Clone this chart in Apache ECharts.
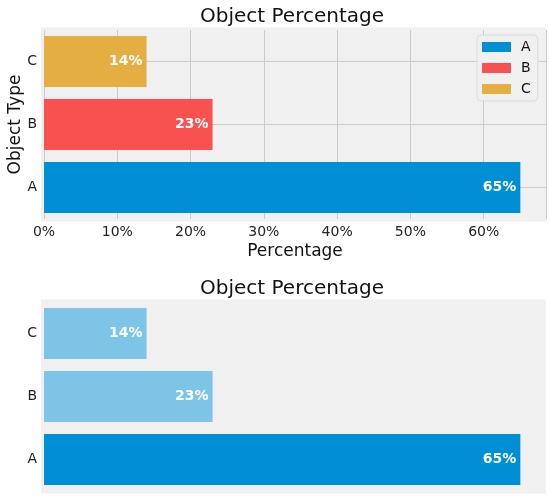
<!DOCTYPE html>
<html>
<head>
<meta charset="utf-8">
<script src="https://cdn.jsdelivr.net/npm/echarts@6/dist/echarts.min.js"></script>
<style>
  html, body { margin: 0; padding: 0; background: #fff; }
  #chart { width: 550px; height: 501px; }
</style>
</head>
<body>
<div id="chart"></div>
<script>
var categories = ['A', 'B', 'C'];
var percentages = [65, 23, 14];
var barColors = ['#008fd5', '#f85150', '#e5ae42'];
var highlightColor = '#008fd5';
var fadedColor = '#7dc4e6';
var titleText = 'Object Percentage';

var font = 'DejaVu Sans';
var gridColor = '#cbcbcb';
var panelColor = '#f0f0f0';
var xMax = 68.5;

var chart = echarts.init(document.getElementById('chart'), null, { renderer: 'canvas' });

var barLabel = {
  show: true,
  position: 'insideRight',
  distance: 4,
  color: '#fff',
  fontWeight: 'bold',
  fontSize: 14,
  fontFamily: font,
  formatter: '{c}%'
};

// top panel: one series per category so the legend gets A, B, C
var topSeries = categories.map(function (name, i) {
  return {
    name: name,
    type: 'bar',
    stack: 'top',
    xAxisIndex: 0,
    yAxisIndex: 0,
    barWidth: 51,
    z: 3,
    itemStyle: { color: barColors[i] },
    label: barLabel,
    data: percentages.map(function (v, j) { return j === i ? v : '-'; })
  };
});

// horizontal grid lines through the bar centres (behind the bars)
topSeries.push({
  name: 'ygrid',
  type: 'line',
  xAxisIndex: 0,
  yAxisIndex: 0,
  z: 1,
  showSymbol: false,
  data: [],
  markLine: {
    z: 1,
    silent: true,
    animation: false,
    symbol: 'none',
    label: { show: false },
    lineStyle: { color: gridColor, width: 1, type: 'solid' },
    data: categories.map(function (c) { return { yAxis: c }; })
  }
});

// bottom panel: largest bar highlighted
var maxVal = Math.max.apply(null, percentages);
var bottomSeries = {
  name: 'bottom',
  type: 'bar',
  xAxisIndex: 1,
  yAxisIndex: 1,
  barWidth: 51,
  z: 3,
  label: barLabel,
  data: percentages.map(function (v) {
    return { value: v, itemStyle: { color: v === maxVal ? highlightColor : fadedColor } };
  })
};

var axisText = { color: '#222', fontSize: 14, fontFamily: font };

chart.setOption({
  backgroundColor: '#fff',
  animation: false,
  textStyle: { fontFamily: font },
  title: [
    { text: titleText, left: 200, top: 7, padding: 0,
      textStyle: { fontSize: 20, fontWeight: 'normal', color: '#111', fontFamily: font } },
    { text: titleText, left: 200, top: 279, padding: 0,
      textStyle: { fontSize: 20, fontWeight: 'normal', color: '#111', fontFamily: font } }
  ],
  graphic: [
    { type: 'rect', z: -10, silent: true, shape: { x: 41, y: 27.5, width: 505, height: 194 }, style: { fill: panelColor } },
    { type: 'rect', z: -10, silent: true, shape: { x: 41, y: 299.5, width: 505, height: 194 }, style: { fill: panelColor } }
  ],
  legend: {
    data: categories,
    orient: 'vertical',
    left: 477,
    top: 35,
    padding: [5, 7, 5, 5],
    itemWidth: 29,
    itemHeight: 10,
    itemGap: 7,
    icon: 'rect',
    backgroundColor: panelColor,
    borderColor: '#dcdcdc',
    borderWidth: 1,
    borderRadius: 4,
    textStyle: { fontSize: 14, lineHeight: 14, color: '#111', fontFamily: font, padding: [0, 0, 0, 5] }
  },
  grid: [
    { left: 44, right: 4, top: 30, height: 189, outerBoundsMode: 'none', containLabel: false },
    { left: 44, right: 4, top: 302, height: 189, outerBoundsMode: 'none', containLabel: false }
  ],
  xAxis: [
    {
      gridIndex: 0, type: 'value', min: 0, max: xMax, interval: 10,
      name: 'Percentage', nameLocation: 'middle', nameGap: 24, nameMoveOverlap: false,
      nameTextStyle: { fontSize: 17, color: '#111', fontFamily: font },
      axisLine: { show: false }, axisTick: { show: false },
      axisLabel: Object.assign({ margin: 6, showMaxLabel: false, formatter: '{value}%' }, axisText),
      splitLine: { show: true, lineStyle: { color: gridColor, width: 1 } }
    },
    {
      gridIndex: 1, type: 'value', min: 0, max: xMax, interval: 10,
      axisLine: { show: false }, axisTick: { show: false },
      axisLabel: { show: false }, splitLine: { show: false }
    }
  ],
  yAxis: [
    {
      gridIndex: 0, type: 'category', data: categories,
      name: 'Object Type', nameLocation: 'middle', nameGap: 20, nameMoveOverlap: false,
      nameTextStyle: { fontSize: 17, color: '#111', fontFamily: font },
      axisLine: { show: false }, axisTick: { show: false },
      axisLabel: Object.assign({ margin: 7 }, axisText),
      splitLine: { show: false }
    },
    {
      gridIndex: 1, type: 'category', data: categories,
      axisLine: { show: false }, axisTick: { show: false },
      axisLabel: Object.assign({ margin: 7 }, axisText),
      splitLine: { show: false }
    }
  ],
  series: topSeries.concat([bottomSeries])
});
</script>
</body>
</html>
